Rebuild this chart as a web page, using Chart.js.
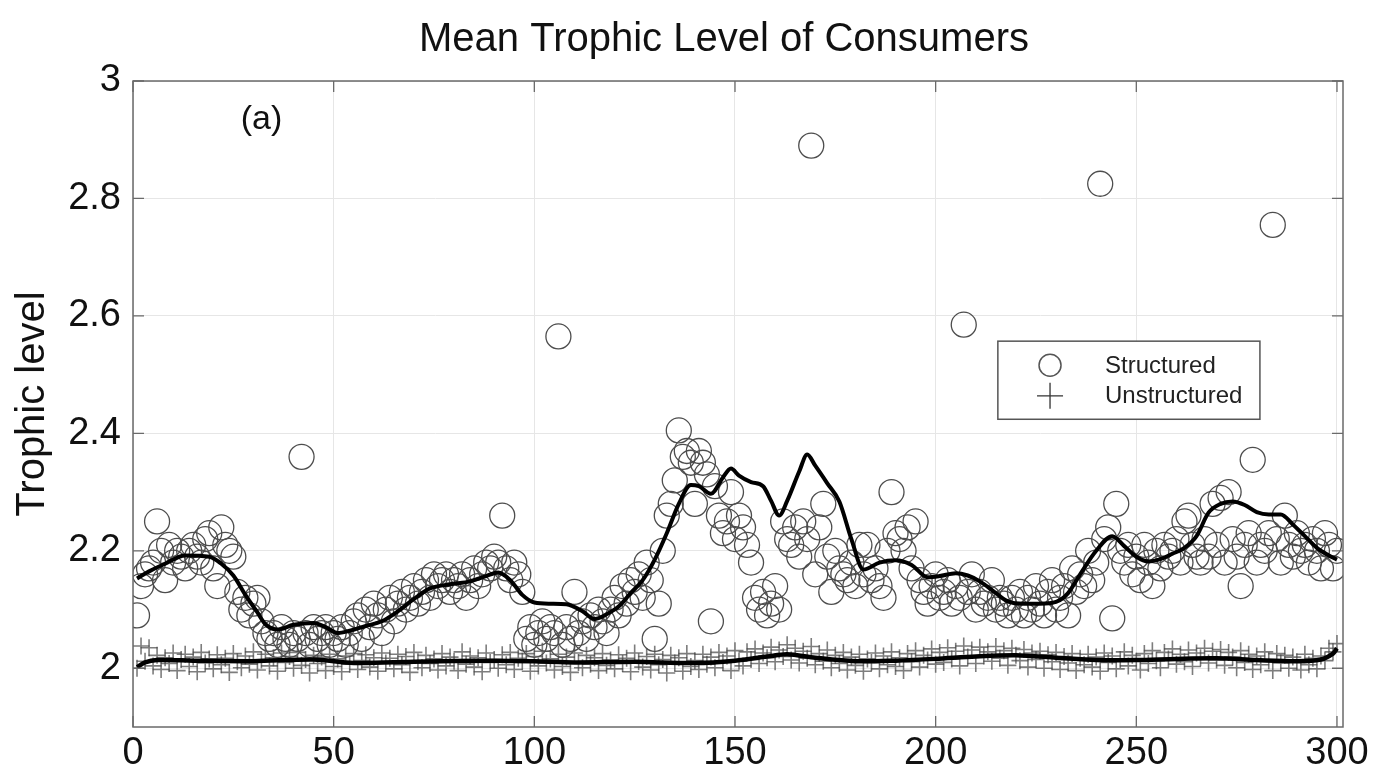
<!DOCTYPE html>
<html>
<head>
<meta charset="utf-8">
<title>Mean Trophic Level of Consumers</title>
<script src="https://cdn.jsdelivr.net/npm/chart.js@4.4.1/dist/chart.umd.min.js"></script>
<style>
  html, body { margin: 0; padding: 0; background: #fff; }
  #wrap { width: 1379px; height: 780px; }
</style>
</head>
<body>
<div id="wrap"><canvas id="trophicChart" width="1379" height="780"></canvas></div>
<script>
// Structured runs: one value per time step (1..300)
const structured = [
    2.09, 2.14, 2.16, 2.17, 2.18, 2.25, 2.2, 2.15, 2.21, 2.18,
    2.2, 2.19, 2.17, 2.2, 2.21, 2.19, 2.18, 2.22, 2.23, 2.17,
    2.14, 2.24, 2.21, 2.2, 2.19, 2.13, 2.1, 2.12, 2.09, 2.11,
    2.12, 2.08, 2.06, 2.05, 2.06, 2.04, 2.07, 2.05, 2.04, 2.06,
    2.05, 2.36, 2.06, 2.04, 2.07, 2.05, 2.06, 2.07, 2.04, 2.06,
    2.05, 2.07, 2.04, 2.06, 2.08, 2.09, 2.05, 2.1, 2.07, 2.11,
    2.09, 2.06, 2.1, 2.12, 2.08, 2.11, 2.13, 2.1, 2.12, 2.14,
    2.11, 2.13, 2.15, 2.12, 2.16, 2.14, 2.15, 2.16, 2.13, 2.15,
    2.14, 2.16, 2.12, 2.15, 2.17, 2.14, 2.16, 2.18, 2.17, 2.19,
    2.18, 2.26, 2.17, 2.15, 2.18, 2.16, 2.13, 2.05, 2.07, 2.04,
    2.06, 2.08, 2.05, 2.07, 2.06, 2.565, 2.04, 2.07, 2.05, 2.13,
    2.06, 2.08, 2.05, 2.09, 2.07, 2.1, 2.08, 2.06, 2.1, 2.12,
    2.09, 2.14, 2.11, 2.15, 2.13, 2.16, 2.12, 2.18, 2.15, 2.05,
    2.11, 2.2, 2.26, 2.28, 2.32, 2.405, 2.36, 2.37, 2.35, 2.28,
    2.37, 2.35, 2.33, 2.08, 2.31, 2.26, 2.23, 2.25, 2.3, 2.22,
    2.26, 2.24, 2.21, 2.18, 2.12, 2.1, 2.13, 2.09, 2.11, 2.14,
    2.1, 2.25, 2.22, 2.21, 2.24, 2.19, 2.25, 2.22, 2.89, 2.16,
    2.24, 2.28, 2.19, 2.13, 2.2, 2.17, 2.16, 2.15, 2.18, 2.14,
    2.21, 2.16, 2.21, 2.15, 2.17, 2.14, 2.12, 2.2, 2.3, 2.23,
    2.22, 2.2, 2.24, 2.17, 2.25, 2.15, 2.13, 2.11, 2.14, 2.16,
    2.12, 2.13, 2.15, 2.11, 2.14, 2.12, 2.585, 2.13, 2.16, 2.1,
    2.13, 2.11, 2.12, 2.15, 2.1, 2.12, 2.11, 2.09, 2.12, 2.1,
    2.13, 2.09, 2.12, 2.1, 2.14, 2.11, 2.09, 2.13, 2.15, 2.1,
    2.12, 2.14, 2.09, 2.17, 2.13, 2.16, 2.14, 2.2, 2.15, 2.18,
    2.825, 2.22, 2.24, 2.085, 2.28, 2.2, 2.18, 2.21, 2.16, 2.19,
    2.15, 2.21, 2.18, 2.14, 2.2, 2.17, 2.21, 2.19, 2.2, 2.22,
    2.18, 2.25, 2.26, 2.21, 2.19, 2.18, 2.22, 2.19, 2.28, 2.21,
    2.29, 2.18, 2.3, 2.22, 2.19, 2.14, 2.21, 2.23, 2.355, 2.18,
    2.21, 2.2, 2.23, 2.755, 2.22, 2.18, 2.26, 2.21, 2.19, 2.23,
    2.2, 2.21, 2.18, 2.22, 2.2, 2.17, 2.23, 2.21, 2.17, 2.2
];

// Smoothed curve through the structured runs
const trendX = [1, 4, 8, 13, 19, 22, 25, 28, 31, 33, 36, 40, 45, 48, 51, 54, 58, 62, 66, 70,
    74, 79, 84, 88, 91, 94, 97, 100, 104, 108, 112, 115, 118, 121, 124, 127, 130, 133, 136, 139,
    141, 144, 147, 149, 151, 154, 157, 159, 161, 163, 166, 168, 170, 173, 176, 179, 182, 186, 190, 194,
    198, 201, 205, 208, 211, 215, 218, 222, 226, 230, 233, 236, 240, 244, 247, 250, 253, 256, 259, 262,
    265, 268, 271, 274, 277, 280, 283, 286, 289, 292, 295, 298, 300];
const trendY = [2.153, 2.165, 2.178, 2.192, 2.190, 2.178, 2.158, 2.125, 2.095, 2.075, 2.066, 2.074, 2.077, 2.070, 2.060, 2.064, 2.072, 2.080, 2.097, 2.118,
    2.136, 2.143, 2.148, 2.157, 2.163, 2.150, 2.125, 2.112, 2.110, 2.109, 2.097, 2.084, 2.092, 2.105, 2.128, 2.150, 2.185, 2.230, 2.280, 2.312,
    2.310, 2.297, 2.325, 2.340, 2.328, 2.317, 2.310, 2.285, 2.260, 2.285, 2.335, 2.364, 2.345, 2.315, 2.284, 2.220, 2.168, 2.180, 2.184, 2.176,
    2.155, 2.157, 2.162, 2.158, 2.148, 2.128, 2.114, 2.110, 2.110, 2.113, 2.128, 2.160, 2.200, 2.225, 2.208, 2.190, 2.182, 2.186, 2.195, 2.205,
    2.225, 2.265, 2.280, 2.284, 2.278, 2.266, 2.262, 2.262, 2.245, 2.225, 2.205, 2.192, 2.185];

// Unstructured runs: one value per time step (1..300)
const unstructured = [
    2.000, 2.038, 2.012, 2.035, 2.004, 2.022, 1.998, 2.018, 2.008, 2.026,
    1.996, 2.015, 2.024, 2.003, 2.019, 1.994, 2.027, 2.009, 2.016, 1.999,
    2.023, 2.006, 2.017, 1.993, 2.025, 2.011, 2.001, 2.021, 2.007, 2.028,
    1.997, 2.014, 2.024, 2.004, 2.018, 1.995, 2.026, 2.010, 2.020, 2.000,
    2.027, 2.005, 2.015, 1.992, 2.022, 2.008, 2.019, 1.996, 2.024, 2.003,
    2.016, 1.994, 2.021, 2.007, 2.025, 1.998, 2.013, 2.023, 2.002, 2.018,
    1.995, 2.026, 2.009, 2.017, 1.999, 2.024, 2.006, 2.020, 1.993, 2.027,
    2.011, 2.001, 2.022, 2.008, 2.016, 1.997, 2.025, 2.004, 2.019, 2.012,
    1.996, 2.028, 2.007, 2.021, 2.002, 2.018, 1.994, 2.026, 2.010, 2.015,
    2.000, 2.023, 2.006, 2.027, 1.998, 2.017, 2.012, 2.025, 1.995, 2.020,
    2.004, 2.029, 2.009, 2.016, 1.997, 2.024, 2.003, 2.019, 1.993, 2.026,
    2.010, 2.001, 2.022, 2.007, 2.018, 1.996, 2.025, 2.005, 2.014, 1.999,
    2.023, 2.008, 2.017, 1.994, 2.026, 2.011, 2.002, 2.020, 1.997, 2.024,
    2.006, 2.015, 1.992, 2.022, 2.009, 2.018, 1.995, 2.025, 2.003, 2.013,
    1.998, 2.024, 2.007, 2.019, 2.001, 2.027, 2.010, 2.021, 1.996, 2.030,
    2.012, 2.004, 2.028, 2.015, 2.033, 2.008, 2.026, 2.018, 2.036, 2.011,
    2.031, 2.020, 2.040, 2.014, 2.034, 2.009, 2.029, 2.017, 2.037, 2.006,
    2.025, 2.012, 2.031, 2.001, 2.022, 2.008, 2.027, 1.997, 2.019, 2.005,
    2.024, 1.995, 2.016, 2.010, 2.026, 1.999, 2.021, 2.006, 2.028, 2.003,
    2.018, 1.996, 2.025, 2.011, 2.030, 2.002, 2.022, 2.014, 2.033, 2.007,
    2.027, 2.010, 2.035, 2.016, 2.029, 2.004, 2.038, 2.019, 2.031, 2.008,
    2.036, 2.021, 2.028, 2.012, 2.037, 2.017, 2.030, 2.005, 2.034, 2.022,
    2.013, 2.032, 2.002, 2.026, 2.015, 2.029, 2.000, 2.023, 2.011, 2.027,
    1.998, 2.020, 2.009, 2.025, 1.996, 2.017, 2.006, 2.024, 2.002, 2.019,
    1.995, 2.026, 2.010, 2.021, 1.999, 2.015, 2.028, 2.004, 2.022, 2.012,
    1.997, 2.025, 2.008, 2.030, 2.013, 2.001, 2.027, 2.016, 2.033, 2.007,
    2.024, 2.011, 2.031, 2.003, 2.026, 2.018, 2.034, 2.009, 2.029, 2.014,
    2.032, 2.005, 2.027, 2.019, 2.001, 2.030, 2.010, 2.024, 1.998, 2.021,
    2.006, 2.028, 2.013, 1.996, 2.025, 2.009, 2.022, 2.000, 2.019, 2.011,
    1.997, 2.024, 2.006, 2.017, 1.999, 2.021, 2.013, 2.034, 2.028, 2.042
];

// Mean of the unstructured runs (black line near 2.01)
const uMeanX = [1, 3, 6, 15, 30, 45, 55, 70, 90, 100, 110, 125, 140, 150, 158, 163, 170, 180, 190, 200,
    210, 220, 230, 240, 250, 260, 270, 280, 290, 296, 299, 300];
const uMeanY = [2.002, 2.010, 2.014, 2.013, 2.012, 2.015, 2.009, 2.011, 2.013, 2.012, 2.010, 2.011, 2.009, 2.013, 2.020, 2.024, 2.018, 2.012, 2.013, 2.016,
    2.020, 2.022, 2.018, 2.014, 2.014, 2.016, 2.017, 2.014, 2.012, 2.015, 2.025, 2.034];

const xTicks = [0, 50, 100, 150, 200, 250, 300];
const yTicks = [2, 2.2, 2.4, 2.6, 2.8, 3];
const yTickLabels = ['2', '2.2', '2.4', '2.6', '2.8', '3'];
const seriesNames = ['Structured', 'Unstructured'];
const chartTitle = 'Mean Trophic Level of Consumers';
const yTitle = 'Trophic level';
const panelLabel = '(a)';

const FONT = '"Liberation Sans", Arial, Helvetica, sans-serif';

document.addEventListener('DOMContentLoaded', () => {
    const ctx = document.getElementById('trophicChart').getContext('2d');

    const byStep = values => values.map((v, i) => ({ x: i + 1, y: v }));
    const paired = (xs, ys) => ys.map((v, i) => ({ x: xs[i], y: v }));

    // box, inward ticks, legend, title and panel label (MATLAB look)
    const decorPlugin = {
        id: 'decor',
        afterDatasetsDraw(chart) {
            const { ctx, chartArea: a, scales: { x, y } } = chart;
            ctx.save();

            ctx.strokeStyle = '#6a6a6a';
            ctx.lineWidth = 1.5;
            ctx.strokeRect(a.left, a.top, a.right - a.left, a.bottom - a.top);

            ctx.lineWidth = 1.3;
            ctx.beginPath();
            xTicks.forEach(v => {
                const px = x.getPixelForValue(v);
                ctx.moveTo(px, a.bottom); ctx.lineTo(px, a.bottom - 11);
                ctx.moveTo(px, a.top); ctx.lineTo(px, a.top + 11);
            });
            yTicks.forEach(v => {
                const py = y.getPixelForValue(v);
                ctx.moveTo(a.left, py); ctx.lineTo(a.left + 11, py);
                ctx.moveTo(a.right, py); ctx.lineTo(a.right - 11, py);
            });
            ctx.stroke();

            // legend box
            const lx0 = x.getPixelForValue(215.5), lx1 = x.getPixelForValue(280.8);
            const ly0 = y.getPixelForValue(2.557), ly1 = y.getPixelForValue(2.424);
            ctx.fillStyle = '#fff';
            ctx.fillRect(lx0, ly0, lx1 - lx0, ly1 - ly0);
            ctx.strokeStyle = '#555';
            ctx.lineWidth = 1.5;
            ctx.strokeRect(lx0, ly0, lx1 - lx0, ly1 - ly0);

            const mx = x.getPixelForValue(228.5);
            const r1 = y.getPixelForValue(2.516), r2 = y.getPixelForValue(2.464);
            ctx.strokeStyle = '#555';
            ctx.lineWidth = 1.5;
            ctx.beginPath();
            ctx.arc(mx, r1, 11, 0, Math.PI * 2);
            ctx.stroke();
            ctx.strokeStyle = '#333';
            ctx.lineWidth = 1.3;
            ctx.beginPath();
            ctx.moveTo(mx - 13, r2); ctx.lineTo(mx + 13, r2);
            ctx.moveTo(mx, r2 - 13); ctx.lineTo(mx, r2 + 13);
            ctx.stroke();

            const tx = x.getPixelForValue(242.2);
            ctx.fillStyle = '#222';
            ctx.font = `24px ${FONT}`;
            ctx.textAlign = 'left';
            ctx.textBaseline = 'middle';
            ctx.fillText(seriesNames[0], tx, r1 + 1);
            ctx.fillText(seriesNames[1], tx, r2 + 1);

            // panel label
            ctx.fillStyle = '#111';
            ctx.font = `34px ${FONT}`;
            ctx.textAlign = 'center';
            ctx.fillText(panelLabel, x.getPixelForValue(32), y.getPixelForValue(2.934));

            // title
            ctx.font = `40px ${FONT}`;
            ctx.fillText(chartTitle, 724, 40);

            ctx.restore();
        }
    };

    const chartConfig = {
        type: 'scatter',
        data: {
            datasets: [{
                label: seriesNames[1],
                data: byStep(unstructured),
                pointStyle: 'cross',
                pointRadius: 8.5,
                borderColor: 'rgba(70, 70, 70, 0.7)',
                borderWidth: 1.6,
                order: 5
            }, {
                label: seriesNames[0],
                data: byStep(structured),
                pointStyle: 'circle',
                pointRadius: 12.5,
                borderColor: '#4d4d4d',
                backgroundColor: 'rgba(0,0,0,0)',
                borderWidth: 1.3,
                order: 4
            }, {
                label: 'Unstructured mean',
                data: paired(uMeanX, uMeanY),
                showLine: true,
                pointRadius: 0,
                borderColor: '#000',
                borderWidth: 4.5,
                tension: 0.3,
                order: 2
            }, {
                label: 'Structured mean',
                data: paired(trendX, trendY),
                showLine: true,
                pointRadius: 0,
                borderColor: '#000',
                borderWidth: 4,
                cubicInterpolationMode: 'monotone',
                order: 1
            }]
        },
        options: {
            responsive: false,
            animation: false,
            layout: { padding: { top: 81, right: 36, bottom: 0, left: 0 } },
            plugins: {
                legend: { display: false },
                tooltip: { enabled: false },
                title: { display: false }
            },
            scales: {
                x: {
                    type: 'linear',
                    min: 0,
                    max: 301.5,
                    afterBuildTicks: s => { s.ticks = xTicks.map(v => ({ value: v })); },
                    afterFit: s => { s.height = 53; },
                    ticks: {
                        font: { family: FONT, size: 38 },
                        color: '#111',
                        padding: 4,
                        maxRotation: 0,
                        autoSkip: false
                    },
                    grid: { color: '#e6e6e6', drawTicks: false },
                    border: { display: false }
                },
                y: {
                    type: 'linear',
                    min: 1.9,
                    max: 3,
                    afterBuildTicks: s => { s.ticks = yTicks.map(v => ({ value: v })); },
                    afterFit: s => { s.width = 133; },
                    ticks: {
                        font: { family: FONT, size: 38 },
                        color: '#111',
                        padding: 12,
                        callback: v => yTickLabels[yTicks.indexOf(v)]
                    },
                    title: {
                        display: true,
                        text: yTitle,
                        font: { family: FONT, size: 40 },
                        color: '#111',
                        padding: { top: 9, bottom: 0 }
                    },
                    grid: { color: '#e6e6e6', drawTicks: false },
                    border: { display: false }
                }
            }
        },
        plugins: [decorPlugin]
    };

    new Chart(ctx, chartConfig);
});
</script>
</body>
</html>
